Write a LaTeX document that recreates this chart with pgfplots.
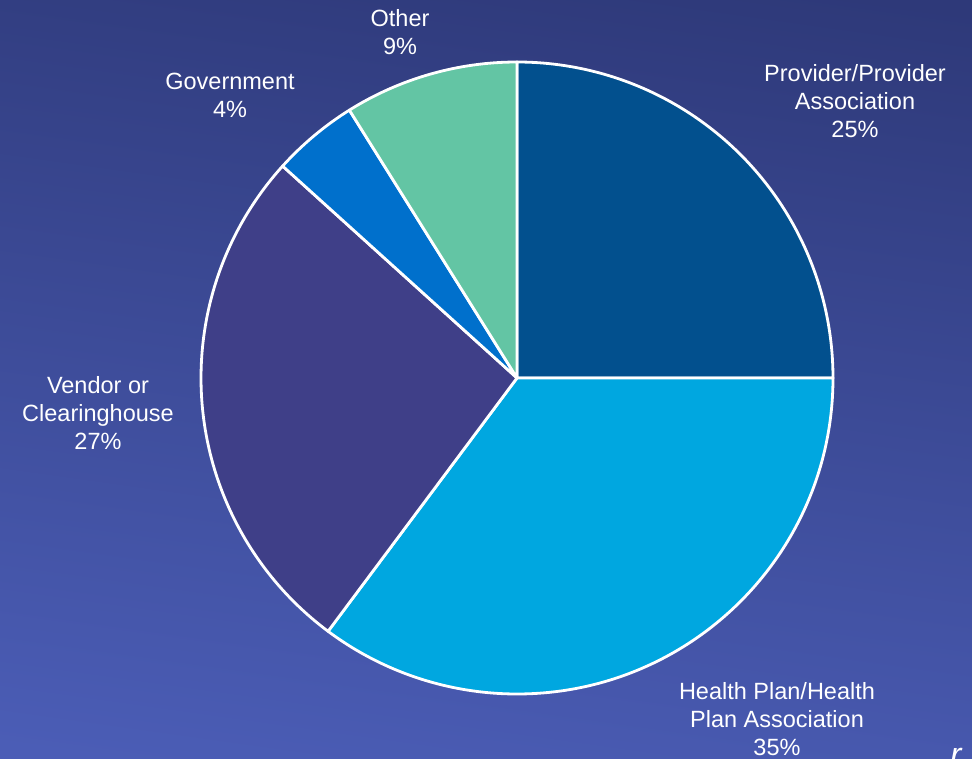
\documentclass[border=0pt]{standalone}
\usepackage{pgfplots}
\usepackage{pgfplotstable}
\pgfplotsset{compat=1.18}
\usepackage{fontspec}
\setmainfont{Liberation Sans}
\definecolor{bgtop}{HTML}{2E3979}
\definecolor{bgbot}{HTML}{4B5DB6}
\definecolor{c0}{HTML}{02508E}
\definecolor{c1}{HTML}{00A7E0}
\definecolor{c2}{HTML}{3F3F88}
\definecolor{c3}{HTML}{0070CC}
\definecolor{c4}{HTML}{63C5A4}
\pgfplotstableread{
name pct
Provider 25
HealthPlan 35.2
Vendor 26.5
Government 4.4
Other 8.9
}\piedata
\begin{document}
\begin{tikzpicture}
\clip (0,0) rectangle (972pt,758pt);
\shade[top color=bgtop, bottom color=bgbot, shading angle=-8] (-40pt,-40pt) rectangle (1012pt,798pt);
\begin{axis}[at={(0,0)}, anchor=origin, scale only axis, width=972pt, height=758pt,
  xmin=0, xmax=972, ymin=0, ymax=758, hide axis, clip=false]
\def\startang{90}
\pgfplotsforeachungrouped \i in {0,...,4}{%
  \pgfplotstablegetelem{\i}{pct}\of\piedata
  \pgfmathsetmacro\endang{\startang-\pgfplotsretval*3.6}%
  \edef\tmp{\noexpand\filldraw[fill=c\i, draw=white, line width=2.8pt, line join=round]
    (axis cs:517,380) -- ++(\startang:316pt) arc[start angle=\startang, end angle=\endang, radius=316pt] -- cycle;}%
  \tmp
  \global\let\startang\endang
}
\begin{scope}[every node/.style={text=white, align=center, font=\fontsize{23.5}{28}\selectfont, inner sep=0pt}]
\node at (axis cs:400,726) {Other\\9\%};
\node at (axis cs:230,663) {Government\\4\%};
\node at (axis cs:855,657) {Provider/Provider\\Association\\25\%};
\node at (axis cs:98,345) {Vendor or\\Clearinghouse\\27\%};
\node at (axis cs:777,39) {Health Plan/Health\\Plan Association\\35\%};
\node[anchor=base west] at (axis cs:950,-8) {\fontsize{34}{40}\selectfont\itshape r};
\end{scope}
\end{axis}
\end{tikzpicture}
\end{document}
